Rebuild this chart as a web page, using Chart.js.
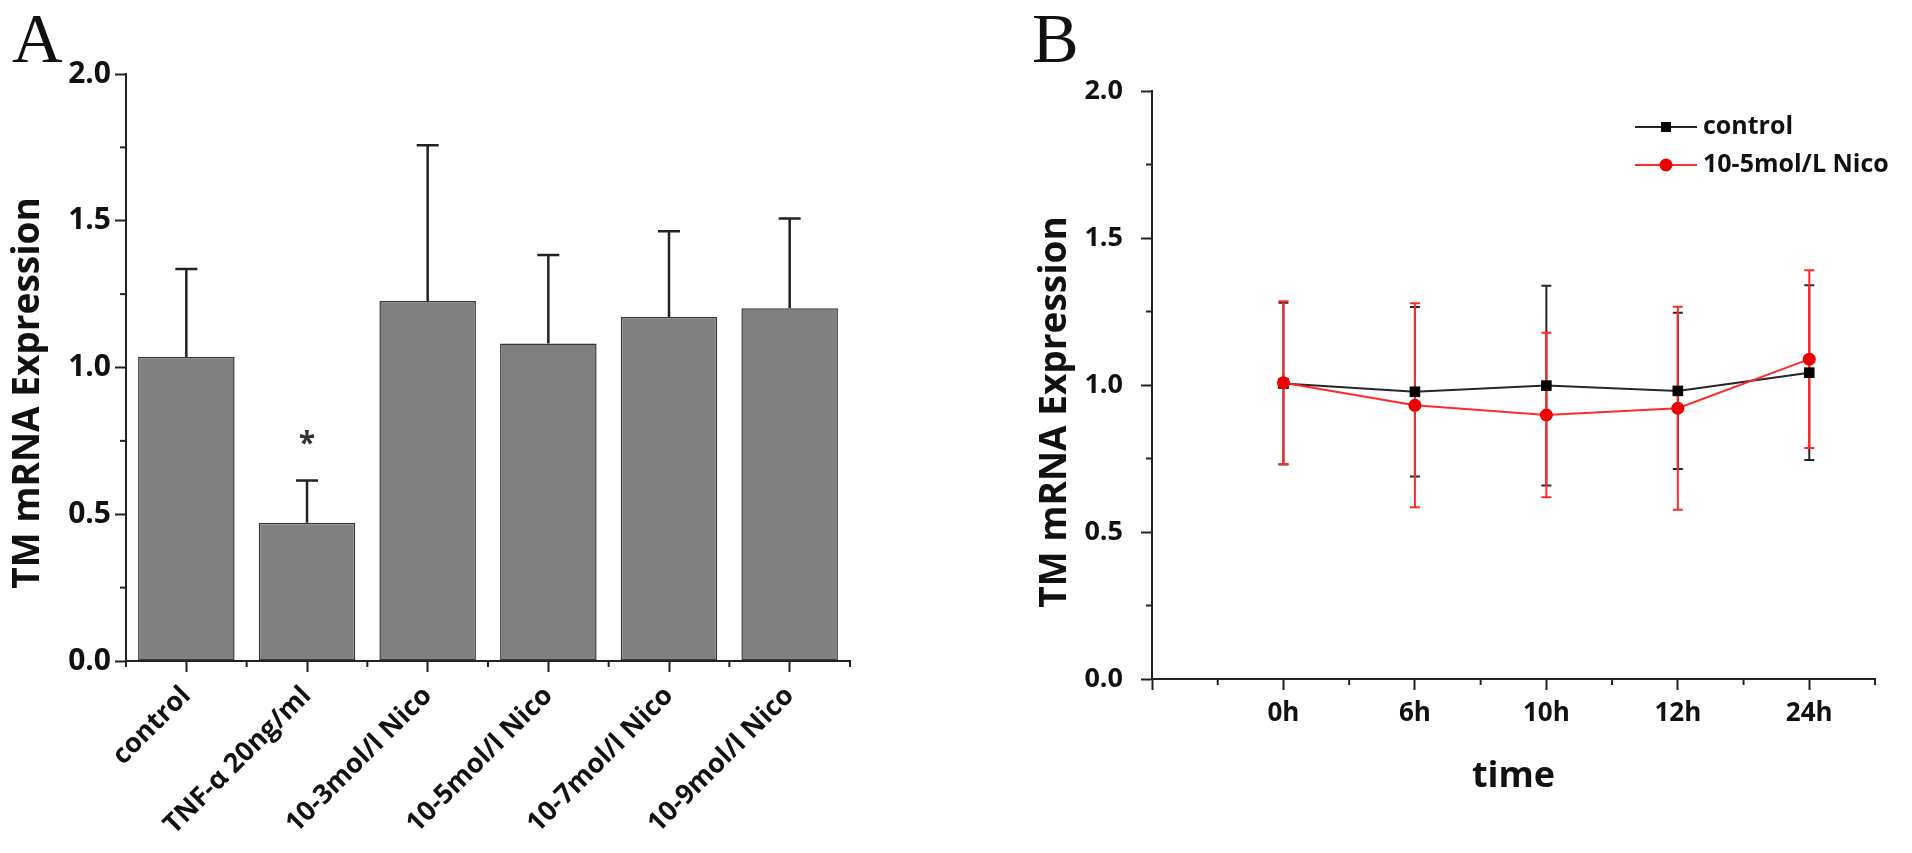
<!DOCTYPE html>
<html><head><meta charset="utf-8">
<script src="https://cdn.jsdelivr.net/npm/chart.js@4.4.1/dist/chart.umd.min.js"></script>
<style>
html,body{margin:0;padding:0;background:#fff;width:1912px;height:853px;overflow:hidden;}
#wa{position:absolute;left:0;top:0;width:880px;height:853px;}
#wb{position:absolute;left:890px;top:0;width:1022px;height:853px;}
.panel{position:absolute;font-family:"Liberation Serif","DejaVu Serif",serif;font-size:70px;line-height:1;color:#111;}
</style></head><body>
<div class="panel" style="left:12px;top:4px">A</div>
<div class="panel" style="left:1032px;top:4px">B</div>
<div id="wa"><canvas id="ca"></canvas></div>
<div id="wb"><canvas id="cb"></canvas></div>
<script>
// ---------- Panel A data ----------
const barCategories = ['control', 'TNF-\u03b1 20ng/ml', '10-3mol/l Nico', '10-5mol/l Nico', '10-7mol/l Nico', '10-9mol/l Nico'];
const barMeans = [1.036, 0.471, 1.227, 1.082, 1.172, 1.202];
const barErrors = [0.300, 0.144, 0.530, 0.301, 0.292, 0.306];
const barMarks = ['', '*', '', '', '', ''];
const yTicksA = [0, 0.5, 1.0, 1.5, 2.0];

// ---------- Panel B data ----------
const timeLabels = ['0h', '6h', '10h', '12h', '24h'];
const controlMean = [1.005, 0.977, 0.998, 0.980, 1.042];
const controlErr = [0.275, 0.288, 0.340, 0.266, 0.297];
const nicoMean = [1.008, 0.931, 0.898, 0.921, 1.088];
const nicoErr = [0.277, 0.347, 0.280, 0.345, 0.302];
const seriesNames = ['control', '10-5mol/L Nico'];

const FONT = "'Open Sans', 'Liberation Sans', sans-serif";
Chart.defaults.font.family = FONT;
Chart.defaults.color = '#111';

function drawErrorBars(chart, o) {
  const ctx = chart.ctx, ys = chart.scales.y;
  chart.data.datasets.forEach((ds, di) => {
    if (!ds.errors) return;
    const meta = chart.getDatasetMeta(di);
    ctx.save();
    ctx.strokeStyle = ds.errorColor || '#222';
    ctx.lineWidth = o.lineWidth;
    meta.data.forEach((el, i) => {
      const raw = ds.data[i];
      const v = (typeof raw === 'object') ? raw.y : raw;
      const e = ds.errors[i];
      const x = el.x;
      const yTop = ys.getPixelForValue(v + e);
      const yBot = ys.getPixelForValue(o.upperOnly ? v : v - e);
      ctx.beginPath();
      ctx.moveTo(x, yBot); ctx.lineTo(x, yTop);
      ctx.moveTo(x - o.cap, yTop); ctx.lineTo(x + o.cap, yTop);
      if (!o.upperOnly) { ctx.moveTo(x - o.cap, yBot); ctx.lineTo(x + o.cap, yBot); }
      ctx.stroke();
    });
    ctx.restore();
  });
}
const errorBarPlugin = {
  id: 'errorBars',
  beforeDatasetsDraw(chart, args, o) { if (o.layer === 'below') drawErrorBars(chart, o); },
  afterDatasetsDraw(chart, args, o) { if (o.layer !== 'below') drawErrorBars(chart, o); }
};

const minorTickPlugin = {
  id: 'minorTicks',
  afterDraw(chart, args, o) {
    const ctx = chart.ctx;
    ctx.save();
    ctx.strokeStyle = o.color; ctx.lineWidth = o.width;
    o.axes.forEach(a => {
      const s = chart.scales[a.id];
      a.values.forEach(v => {
        const p = s.getPixelForValue(v);
        ctx.beginPath();
        if (s.isHorizontal()) { ctx.moveTo(p, s.top); ctx.lineTo(p, s.top + a.len); }
        else { ctx.moveTo(s.right, p); ctx.lineTo(s.right - a.len, p); }
        ctx.stroke();
      });
    });
    ctx.restore();
  }
};

const sideTitlePlugin = {
  id: 'sideTitle',
  afterDraw(chart, args, o) {
    const ctx = chart.ctx;
    ctx.save();
    ctx.translate(o.x, o.y);
    ctx.rotate(-Math.PI / 2);
    ctx.font = o.font; ctx.fillStyle = o.color;
    ctx.textAlign = 'center'; ctx.textBaseline = 'middle';
    ctx.fillText(o.text, 0, 0);
    ctx.restore();
  }
};

const marksPlugin = {
  id: 'marks',
  afterDatasetsDraw(chart, args, o) {
    const ctx = chart.ctx, ys = chart.scales.y;
    const ds = chart.data.datasets[0];
    const meta = chart.getDatasetMeta(0);
    ctx.save();
    ctx.font = o.font; ctx.fillStyle = o.color;
    ctx.textAlign = 'center'; ctx.textBaseline = 'middle';
    o.marks.forEach((m, i) => {
      if (!m) return;
      const y = ys.getPixelForValue(ds.data[i] + ds.errors[i]) - o.gap;
      ctx.fillText(m, meta.data[i].x, y);
    });
    ctx.restore();
  }
};

const lineLegendPlugin = {
  id: 'lineLegend',
  afterDraw(chart, args, o) {
    const ctx = chart.ctx;
    chart.data.datasets.forEach((ds, i) => {
      const y = o.y + i * o.rowGap;
      const cx = o.x + o.lineLen / 2;
      ctx.save();
      ctx.strokeStyle = ds.borderColor; ctx.lineWidth = ds.borderWidth;
      ctx.beginPath(); ctx.moveTo(o.x, y); ctx.lineTo(o.x + o.lineLen, y); ctx.stroke();
      ctx.fillStyle = ds.pointBackgroundColor;
      if (ds.pointStyle === 'rect') {
        const h = o.rectHalf;
        ctx.fillRect(cx - h, y - h, 2 * h, 2 * h);
      } else {
        ctx.beginPath(); ctx.arc(cx, y, o.circleR, 0, Math.PI * 2); ctx.fill();
      }
      ctx.fillStyle = o.color; ctx.font = o.font;
      ctx.textAlign = 'left'; ctx.textBaseline = 'middle';
      ctx.fillText(ds.label, o.x + o.lineLen + o.gap, y);
      ctx.restore();
    });
  }
};

function minorValues(min, max, step, skipEvery) {
  const out = [];
  for (let k = 0; min + k * step <= max + 1e-9; k++) {
    if (k % skipEvery !== 0) out.push(+(min + k * step).toFixed(4));
  }
  return out;
}

// ---------- Chart A ----------
new Chart(document.getElementById('ca'), {
  type: 'bar',
  data: {
    labels: barCategories,
    datasets: [{
      data: barMeans,
      errors: barErrors,
      errorColor: '#222',
      backgroundColor: '#808080',
      borderColor: '#3a3a3a',
      borderWidth: 1.5,
      borderSkipped: false,
      barPercentage: 0.8,
      categoryPercentage: 1.0
    }]
  },
  options: {
    responsive: true, maintainAspectRatio: false, animation: false,
    layout: { padding: { left: 0, top: 74, right: 30, bottom: 0 } },
    plugins: {
      legend: { display: false }, tooltip: { enabled: false },
      errorBars: { layer: 'above', upperOnly: true, lineWidth: 2.5, cap: 11 },
      marks: { marks: barMarks, font: "bold 30px " + FONT, color: '#333', gap: 36 },
      minorTicks: {
        color: '#222', width: 2,
        axes: [
          { id: 'y', len: 6, values: minorValues(0, 2, 0.25, 2) },
          { id: 'x', len: 6, values: barCategories.map((c, i) => i - 0.5).concat([barCategories.length - 0.5]) }
        ]
      },
      sideTitle: { text: 'TM mRNA Expression', x: 28, y: 393, font: "bold 37px " + FONT, color: '#111' }
    },
    scales: {
      x: {
        type: 'category', offset: true,
        grid: { display: true, drawOnChartArea: false, offset: false, tickLength: 11, tickWidth: 2, tickColor: '#222' },
        border: { display: true, color: '#222', width: 2 },
        ticks: { maxRotation: 45, minRotation: 45, autoSkip: false, padding: 8, color: '#111', font: { size: 27, weight: 'bold' } },
        afterFit(s) { s.height = 192; }
      },
      y: {
        min: 0, max: 2,
        afterBuildTicks(s) { s.ticks = yTicksA.map(v => ({ value: v })); },
        ticks: { callback: v => Number(v).toFixed(1), padding: 4, color: '#111', font: { size: 30, weight: 'bold' } },
        grid: { drawOnChartArea: false, tickLength: 11, tickWidth: 2, tickColor: '#222' },
        border: { display: true, color: '#222', width: 2 },
        afterFit(s) { s.width = 126; }
      }
    }
  },
  plugins: [errorBarPlugin, minorTickPlugin, sideTitlePlugin, marksPlugin]
});

// ---------- Chart B ----------
new Chart(document.getElementById('cb'), {
  type: 'line',
  data: {
    datasets: [
      {
        label: seriesNames[0],
        data: controlMean.map((v, i) => ({ x: i + 1, y: v })),
        errors: controlErr, errorColor: '#262626',
        borderColor: '#262626', borderWidth: 2,
        pointStyle: 'rect', pointRadius: 7.5, pointBorderWidth: 0,
        pointBackgroundColor: '#000', pointBorderColor: '#000',
        order: 2, tension: 0
      },
      {
        label: seriesNames[1],
        data: nicoMean.map((v, i) => ({ x: i + 1, y: v })),
        errors: nicoErr, errorColor: '#ff2b2b',
        borderColor: '#ff2b2b', borderWidth: 2,
        pointStyle: 'circle', pointRadius: 6.5, pointBorderWidth: 0,
        pointBackgroundColor: '#ee0000', pointBorderColor: '#ee0000',
        order: 1, tension: 0
      }
    ]
  },
  options: {
    responsive: true, maintainAspectRatio: false, animation: false,
    layout: { padding: { left: 0, top: 91, right: 37, bottom: 0 } },
    plugins: {
      legend: { display: false }, tooltip: { enabled: false },
      errorBars: { layer: 'below', upperOnly: false, lineWidth: 2, cap: 5 },
      minorTicks: {
        color: '#222', width: 2,
        axes: [
          { id: 'y', len: 6, values: minorValues(0, 2, 0.25, 2) },
          { id: 'x', len: 6, values: minorValues(0, 5.5, 0.5, 2) }
        ]
      },
      sideTitle: { text: 'TM mRNA Expression', x: 165, y: 412, font: "bold 37px " + FONT, color: '#111' },
      lineLegend: { x: 745, y: 127, rowGap: 38, lineLen: 62, gap: 6, rectHalf: 5, circleR: 6.5, font: "bold 25px " + FONT, color: '#111' }
    },
    scales: {
      x: {
        type: 'linear', min: 0, max: 5.5,
        ticks: {
          stepSize: 1, includeBounds: false, autoSkip: false, padding: 8, color: '#111',
          font: { size: 26, weight: 'bold' },
          callback: v => (Number.isInteger(v) && v >= 1 && v <= timeLabels.length) ? timeLabels[v - 1] : ''
        },
        grid: { drawOnChartArea: false, tickLength: 11, tickWidth: 2, tickColor: '#222' },
        border: { display: true, color: '#222', width: 2 },
        title: { display: true, text: 'time', color: '#111', font: { size: 36, weight: 'bold' }, padding: { top: 0, bottom: 55 } },
        afterFit(s) { s.height = 174; }
      },
      y: {
        min: 0, max: 2,
        ticks: { stepSize: 0.5, callback: v => Number(v).toFixed(1), padding: 18, color: '#111', font: { size: 27, weight: 'bold' } },
        grid: { drawOnChartArea: false, tickLength: 11, tickWidth: 2, tickColor: '#222' },
        border: { display: true, color: '#222', width: 2 },
        afterFit(s) { s.width = 262; }
      }
    }
  },
  plugins: [errorBarPlugin, minorTickPlugin, sideTitlePlugin, lineLegendPlugin]
});
</script>
</body></html>
